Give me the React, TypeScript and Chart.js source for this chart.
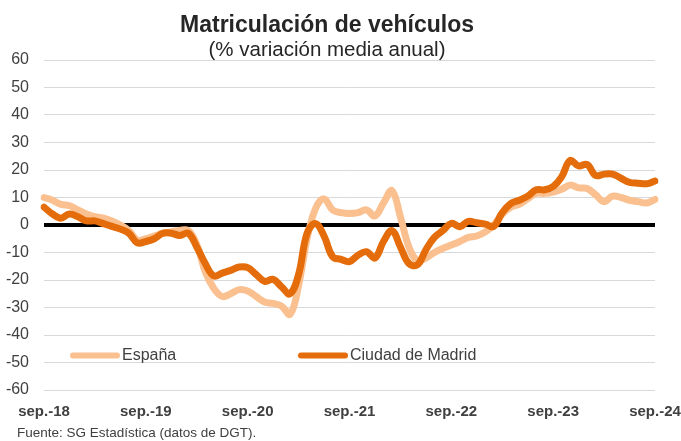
import React, { useEffect, useRef } from "react";
import { Chart, registerables } from "chart.js";

Chart.register(...registerables);

// Monthly categories, sep-18 .. sep-24
const MONTHS = ["sep.", "oct.", "nov.", "dic.", "ene.", "feb.", "mar.", "abr.", "may.", "jun.", "jul.", "ago."];
const START_YEAR = 18;
const N_POINTS = 73;
const categories: string[] = Array.from({ length: N_POINTS }, (_, i) => {
  const m = i % 12;
  const year = START_YEAR + Math.floor(i / 12) + (m >= 4 ? 1 : 0);
  return `${MONTHS[m]}-${year}`;
});

const TICK_EVERY = 12;

// % variación media anual
const espana: number[] = [
  10, 9, 7.5, 7, 5.5, 4, 3, 2.5, 1.5, 0, -2, -5.5,
  -5, -4, -3, -2.5, -2, -2, -7, -17, -23, -26, -25, -23.5,
  -24, -26, -28, -28.5, -29.5, -32.5, -22, -5, 6, 9.5, 5.5, 4.5,
  4.2, 4.5, 5.5, 3.3, 8, 12.5, 3, -8, -13, -12, -10, -8.5,
  -7.3, -6, -4.5, -4, -2.5, 0, 4, 6.5, 7.5, 9.5, 11.5, 11.5,
  12, 13, 14.5, 13.5, 13.3, 11, 8.5, 10.5, 10, 9, 8.5, 8,
  9.3,
];

const madrid: number[] = [
  6.5, 4, 2.5, 4, 3, 1.5, 1.5, 0.5, -0.5, -1.5, -3, -6.5,
  -6, -5, -3, -3, -3.8, -3, -8, -14, -18.5, -17.5, -16.5, -15.3,
  -15.5, -18, -20.5, -19.8, -22.5, -25, -18, -3, 0.5, -4, -11.5, -12.5,
  -13.3, -11, -9.7, -12, -6, -2, -8, -14, -14.5, -9, -4.5, -2,
  0.6, -0.6, 1.3, 0.8, 0.3, -0.5, 4.5, 7.8, 9, 10.5, 12.8, 12.8,
  14, 17.5, 23.5, 21.5, 22, 18, 18.5, 18.5, 17, 15.5, 15.2, 15,
  16,
];

const SERIES_NAMES = ["España", "Ciudad de Madrid"];
const COLORS = ["#FAC090", "#E46C0A"];
const TITLE = "Matriculación de vehículos";
const SUBTITLE = "(% variación media anual)";
const SOURCE = "Fuente: SG Estadística (datos de DGT).";

const FONT = "'Liberation Sans', Arial, sans-serif";
const TEXT = "#404040";

const overlayPlugin = {
  id: "overlay",
  afterDraw(chart: Chart) {
    const { ctx, chartArea } = chart;
    ctx.save();

    // headings
    const cx = 327;
    ctx.textAlign = "center";
    ctx.textBaseline = "alphabetic";
    ctx.fillStyle = "#262626";
    ctx.font = `bold 23px ${FONT}`;
    ctx.fillText(TITLE, cx, 31.5);
    ctx.font = `20.5px ${FONT}`;
    ctx.fillText(SUBTITLE, cx, 56);

    // legend inside the plot area
    const ly = chartArea.bottom - 34.5;
    const entries = [
      { x: chartArea.left + 26, idx: 0 },
      { x: chartArea.left + 254, idx: 1 },
    ];
    ctx.textAlign = "left";
    ctx.font = `16px ${FONT}`;
    ctx.textBaseline = "middle";
    ctx.lineCap = "round";
    entries.forEach((e) => {
      ctx.strokeStyle = COLORS[e.idx];
      ctx.lineWidth = 6;
      ctx.beginPath();
      ctx.moveTo(e.x + 3, ly);
      ctx.lineTo(e.x + 47, ly);
      ctx.stroke();
      ctx.fillStyle = TEXT;
      ctx.fillText(SERIES_NAMES[e.idx], e.x + 52, ly + 0.5);
    });

    // source note
    ctx.font = `13.5px ${FONT}`;
    ctx.textBaseline = "alphabetic";
    ctx.fillStyle = TEXT;
    ctx.fillText(SOURCE, 17, 437);
    ctx.restore();
  },
};

export default function App() {
  const ref = useRef<HTMLCanvasElement | null>(null);

  useEffect(() => {
    if (!ref.current) return;
    const chart = new Chart(ref.current, {
      type: "line",
      data: {
        labels: categories,
        datasets: [
          {
            label: SERIES_NAMES[0],
            data: espana,
            borderColor: COLORS[0],
            backgroundColor: COLORS[0],
            borderWidth: 7,
            pointRadius: 0,
            tension: 0.4,
            borderCapStyle: "round",
            borderJoinStyle: "round",
            order: 1,
          },
          {
            label: SERIES_NAMES[1],
            data: madrid,
            borderColor: COLORS[1],
            backgroundColor: COLORS[1],
            borderWidth: 7,
            pointRadius: 0,
            tension: 0.4,
            borderCapStyle: "round",
            borderJoinStyle: "round",
            order: 0,
          },
        ],
      },
      options: {
        responsive: false,
        animation: false,
        layout: { padding: { left: 0, right: 26, top: 60, bottom: 20 } },
        plugins: {
          legend: { display: false },
          tooltip: { enabled: false },
          title: { display: false },
        },
        scales: {
          x: {
            offset: false,
            grid: { display: false, drawTicks: false },
            border: { display: false },
            ticks: {
              autoSkip: false,
              maxRotation: 0,
              padding: 13,
              color: TEXT,
              font: { family: FONT, size: 15, weight: "bold" },
              callback: (_v: any, i: number) => (i % TICK_EVERY === 0 ? categories[i] : null),
            },
            afterFit: (s: any) => {
              s.height = 31;
              s.paddingLeft = 0;
              s.paddingRight = 0;
            },
          },
          y: {
            min: -60,
            max: 60,
            grid: {
              drawTicks: false,
              color: (c: any) => (c.tick && c.tick.value === 0 ? "#000000" : "#d9d9d9"),
              lineWidth: (c: any) => (c.tick && c.tick.value === 0 ? 4 : 1),
            },
            border: { display: false },
            ticks: {
              stepSize: 10,
              padding: 15,
              color: TEXT,
              font: { family: FONT, size: 16 },
            },
            afterFit: (s: any) => {
              s.width = 44;
            },
          },
        },
      },
      plugins: [overlayPlugin],
    });
    return () => chart.destroy();
  }, []);

  return (
    <div style={{ position: "absolute", left: 0, top: 0, width: 681, height: 441, background: "#fff" }}>
      <canvas ref={ref} width={681} height={441} style={{ display: "block" }} />
    </div>
  );
}
